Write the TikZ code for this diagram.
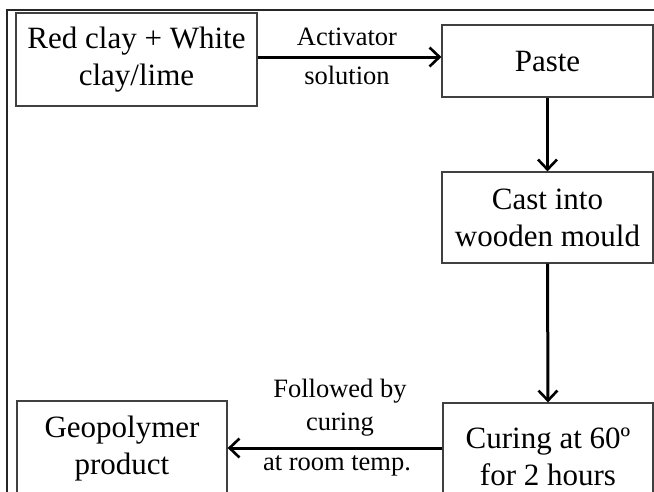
\documentclass[tikz,border=0pt]{standalone}
\usepackage{fontspec}
\setmainfont{Liberation Serif}
\usetikzlibrary{arrows.meta}
\begin{document}
\begin{tikzpicture}[x=1pt,y=-1pt,
  box/.style={draw=black!75, line width=1.2pt, fill=white, inner sep=0pt, align=center,
    font=\fontsize{31}{37}\selectfont},
  boxtext/.style={font=\fontsize{31}{37}\selectfont, align=center, inner sep=0pt},
  lbl/.style={inner sep=0pt, align=center, font=\fontsize{26.5}{33}\selectfont},
  conn/.style={line width=3pt, -{Straight Barb[length=10pt,width=19pt,line width=2.6pt]}}]
\useasboundingbox (0,0) rectangle (654,491);
\clip (0,0) rectangle (654,491);
\fill[white] (0,0) rectangle (654,491);
\draw[black!85, line width=1.1pt] (655,10) -- (7,10) -- (7,495);
\node[box, minimum width=241pt, minimum height=93pt] (raw) at (136.5,59.5) {Red clay + White\\clay/lime};
\node[box, minimum width=211pt, minimum height=72pt] (paste) at (547.5,61) {Paste};
\node[box, minimum width=211pt, minimum height=91pt] (cast) at (547.5,217.5) {Cast into\\wooden mould};
\node[box, minimum width=210pt, minimum height=112pt] (cure) at (548,459) {};
\node[boxtext] (curet) at (548,457) {Curing at 60º\\for 2 hours};
\node[box, minimum width=210pt, minimum height=100pt] (geo) at (122,451) {};
\node[boxtext] (geot) at (122,449) {Geopolymer\\product};
\draw[conn] (raw.east |- 0,57) -- (paste.west |- 0,57);
\node[lbl] (act) at (347,37) {Activator};
\node[lbl] (sol) at (347,75) {solution};
\draw[conn] (paste.south) -- (cast.north);
\draw[conn] (cast.south) -- (cure.north);
\draw[conn] (cure.west |- 0,448) -- (geo.east |- 0,448);
\node[lbl] (fol) at (340,408) {Followed by\\curing};
\node[lbl] (room) at (337,466) {at room temp.};
\end{tikzpicture}
\end{document}
